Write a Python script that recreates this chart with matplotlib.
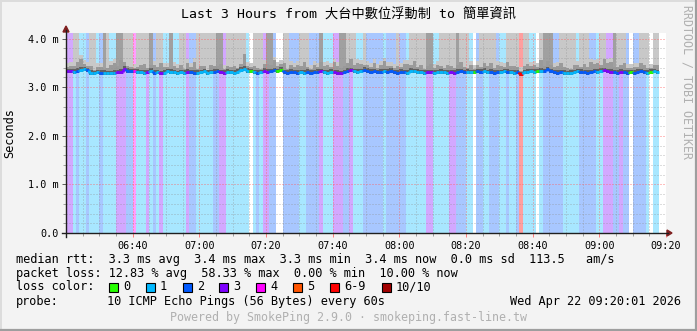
import matplotlib
matplotlib.use('Agg')
import matplotlib.pyplot as plt
from matplotlib.ticker import MultipleLocator, FixedLocator
from matplotlib.patches import Rectangle, Polygon
from matplotlib.lines import Line2D
import numpy as np

W, H, DPI = 697, 331, 100

title = 'Last 3 Hours from 大台中數位浮動制 to 簡單資訊'
x_tick_minutes = [20, 40, 60, 80, 100, 120, 140, 160, 180]
x_tick_labels = ['06:40', '07:00', '07:20', '07:40', '08:00', '08:20', '08:40', '09:00', '09:20']
y_ticks = [0.0, 1.0, 2.0, 3.0, 4.0]
y_tick_labels = ['0.0', '1.0 m', '2.0 m', '3.0 m', '4.0 m']
y_top = 4.115

# lost pings (of 10) per minute, starting 06:20
loss = [3, 3, 1, 2, 1, 1, 2, 1, 1, 1,
        2, 1, 1, 1, 1, 3, 3, 3, 2, 2,
        4, 1, 1, 1, 3, 1, 2, 1, 3, 1,
        1, 1, 1, 1, 1, 1, 3, 2, 2, 1,
        1, 1, 1, 1, 2, 2, 3, 3, 1, 1,
        1, 1, 1, 1, 1, 0, 1, 2, 1, 3,
        3, 2, 2, 0, 0, 2, 2, 2, 2, 2,
        1, 1, 2, 2, 2, 2, 3, 1, 1, 1,
        3, 3, 3, 2, 2, 3, 1, 1, 1, 2,
        2, 2, 2, 2, 2, 1, 2, 2, 2, 2,
        2, 2, 1, 1, 1, 1, 1, 1, 3, 3,
        1, 1, 1, 1, 1, 3, 3, 2, 2, 2,
        1, 1, 0, 2, 2, 1, 1, 2, 2, 2,
        1, 1, 2, 1, 1, 2, 6, 1, 1, 1,
        1, 0, 1, 2, 2, 2, 2, 2, 2, 1,
        1, 1, 1, 1, 2, 2, 2, 2, 2, 1,
        1, 3, 3, 3, 2, 2, 3, 2, 2, 0,
        2, 2, 2, 2, 1, 0, 1, 1]

# median rtt in ms
median_ms = [3.33, 3.33, 3.32, 3.34, 3.36, 3.37, 3.35, 3.30, 3.29, 3.31,
             3.30, 3.30, 3.29, 3.29, 3.30, 3.31, 3.32, 3.38, 3.34, 3.33,
             3.33, 3.32, 3.31, 3.30, 3.31, 3.34, 3.30, 3.31, 3.29, 3.30,
             3.33, 3.32, 3.31, 3.29, 3.31, 3.30, 3.32, 3.31, 3.30, 3.30,
             3.31, 3.33, 3.30, 3.31, 3.32, 3.33, 3.31, 3.30, 3.32, 3.31,
             3.30, 3.32, 3.36, 3.38, 3.34, 3.33, 3.31, 3.30, 3.31, 3.34,
             3.32, 3.33, 3.35, 3.33, 3.36, 3.31, 3.30, 3.32, 3.31, 3.30,
             3.31, 3.30, 3.32, 3.30, 3.31, 3.32, 3.33, 3.31, 3.30, 3.32,
             3.31, 3.30, 3.29, 3.31, 3.34, 3.35, 3.33, 3.32, 3.33, 3.36,
             3.34, 3.32, 3.33, 3.31, 3.32, 3.33, 3.32, 3.34, 3.31, 3.30,
             3.32, 3.31, 3.30, 3.34, 3.33, 3.32, 3.31, 3.30, 3.31, 3.31,
             3.30, 3.31, 3.32, 3.31, 3.30, 3.31, 3.30, 3.32, 3.33, 3.31,
             3.32, 3.31, 3.31, 3.33, 3.32, 3.34, 3.31, 3.32, 3.30, 3.31,
             3.31, 3.33, 3.32, 3.31, 3.30, 3.31, 3.27, 3.31, 3.32, 3.33,
             3.32, 3.33, 3.34, 3.33, 3.37, 3.33, 3.31, 3.30, 3.31, 3.30,
             3.29, 3.30, 3.31, 3.33, 3.32, 3.31, 3.30, 3.31, 3.33, 3.32,
             3.34, 3.35, 3.33, 3.32, 3.31, 3.30, 3.32, 3.31, 3.30, 3.31,
             3.30, 3.32, 3.33, 3.31, 3.30, 3.32, 3.33, 3.31]

# smoke above the median: L = light smoke off the top, D = dark smoke off the top, N = low smoke only
smoke_kind = list('NNLLNNNLLN' 'NDLNNDDLLL' 'NLLLLDNLLN' 'NDNNLLNNNL' 'LLLLLDDNLL'
                  'LLLLNNLLLN' 'DDNNNLLNNN' 'LLLNNNDNNN' 'NNDDLLLNNL' 'NNNNNNNNNL'
                  'NNNLLLLLDD' 'NNLLLLLDLL' 'LNNNLLLLLN' 'NNLLLLNLLN' 'NNLDDDNNLL'
                  'LLLNLLLNNN' 'LLNNDLLLNN' 'NNLLLNLL')

# spread of the dense smoke above the median, ms
smoke_spread = [0.08, 0.10, 0.12, 0.18, 0.22, 0.10, 0.08, 0.14, 0.06, 0.10,
                0.12, 0.08, 0.10, 0.16, 0.20, 0.12, 0.24, 0.14, 0.10, 0.08,
                0.06, 0.10, 0.14, 0.18, 0.08, 0.12, 0.16, 0.10, 0.20, 0.12,
                0.08, 0.06, 0.12, 0.10, 0.14, 0.08, 0.18, 0.10, 0.22, 0.08,
                0.12, 0.10, 0.06, 0.14, 0.12, 0.10, 0.16, 0.08, 0.12, 0.10,
                0.14, 0.08, 0.12, 0.30, 0.10, 0.08, 0.12, 0.10, 0.06, 0.14,
                0.16, 0.12, 0.20, 0.10, 0.12, 0.18, 0.08, 0.14, 0.10, 0.16,
                0.12, 0.22, 0.10, 0.08, 0.14, 0.10, 0.18, 0.12, 0.16, 0.10,
                0.20, 0.14, 0.10, 0.12, 0.16, 0.24, 0.12, 0.18, 0.14, 0.10,
                0.12, 0.10, 0.16, 0.08, 0.14, 0.20, 0.12, 0.10, 0.08, 0.14,
                0.10, 0.16, 0.18, 0.12, 0.20, 0.10, 0.14, 0.08, 0.12, 0.16,
                0.10, 0.14, 0.12, 0.08, 0.16, 0.12, 0.10, 0.14, 0.18, 0.10,
                0.08, 0.14, 0.06, 0.12, 0.10, 0.16, 0.12, 0.18, 0.10, 0.14,
                0.12, 0.08, 0.20, 0.12, 0.14, 0.10, 0.06, 0.12, 0.16, 0.10,
                0.14, 0.08, 0.22, 0.10, 0.16, 0.12, 0.10, 0.14, 0.18, 0.12,
                0.10, 0.08, 0.14, 0.12, 0.10, 0.16, 0.12, 0.20, 0.14, 0.18,
                0.12, 0.24, 0.16, 0.20, 0.10, 0.12, 0.14, 0.18, 0.10, 0.08,
                0.12, 0.10, 0.16, 0.14, 0.10, 0.08, 0.12, 0.14]

legend_labels = ['0', '1', '2', '3', '4', '5', '6-9', '10/10']
legend_colors = ['#26ff00', '#00b8ff', '#0059ff', '#7e00ff', '#ff00ff', '#ff5500', '#ff0000', '#a10000']

line1 = 'median rtt:  3.3 ms avg  3.4 ms max  3.3 ms min  3.4 ms now  0.0 ms sd  113.5   am/s'
line2 = 'packet loss: 12.83 % avg  58.33 % max  0.00 % min  10.00 % now'
probe_text = '10 ICMP Echo Pings (56 Bytes) every 60s'
date_text = 'Wed Apr 22 09:20:01 2026'
footer = 'Powered by SmokePing 2.9.0 · smokeping.fast-line.tw'
side_text = 'RRDTOOL / TOBI OETIKER'


def loss_color(n):
    if n >= 10:
        return legend_colors[7]
    if n >= 6:
        return legend_colors[6]
    return legend_colors[n]


def light(c, a=0.34):
    r, g, b = matplotlib.colors.to_rgb(c)
    return (1 - a + a * r, 1 - a + a * g, 1 - a + a * b)


mono = ['DejaVu Sans Mono', 'Noto Sans CJK TC']
plt.rcParams['font.family'] = mono

fig = plt.figure(figsize=(W / DPI, H / DPI), dpi=DPI, facecolor='#f3f3f3')


def fx(x):
    return x / W


def fy(y):
    return 1 - y / H


ax = fig.add_axes([fx(66), fy(233), 600 / W, 200 / H])
ax.set_facecolor('white')
ax.set_xlim(0, 180)
ax.set_ylim(0, y_top)
for s in ax.spines.values():
    s.set_visible(False)

n = len(loss)
x = np.arange(n)
med = np.array(median_ms)
spread = np.array(smoke_spread)
kind = np.array(smoke_kind)

bg = ['white' if v == 0 else light(loss_color(v), 0.38 if v >= 4 else 0.34) for v in loss]
ax.bar(x, y_top, width=1, align='edge', color=bg, linewidth=0, zorder=1)

# light smoke
lt_top = np.where(kind == 'N', med + spread + 0.08, y_top)
lt_color = np.where(kind == 'D', '#a0a0a0', '#c8c8c8')
ax.bar(x, lt_top - med, bottom=med, width=1, align='edge', color=list(lt_color), linewidth=0, zorder=1.2)
# dense smoke near median
ax.bar(x, spread, bottom=med, width=1, align='edge', color='#9a9a9a', linewidth=0, zorder=1.3)
ax.bar(x, 0.09, bottom=med - 0.04, width=1, align='edge', color='#606060', linewidth=0, zorder=1.4)

# median line, coloured by loss
cols = [loss_color(v) for v in loss]
ax.hlines(med, x, x + 1, colors=cols, linewidth=2.0, zorder=3)
ax.vlines(x[1:], med[:-1], med[1:], colors=cols[1:], linewidth=2.0, zorder=3)

# grid
ax.xaxis.set_major_locator(MultipleLocator(20))
ax.xaxis.set_minor_locator(MultipleLocator(5))
ax.yaxis.set_major_locator(FixedLocator(y_ticks))
ax.yaxis.set_minor_locator(MultipleLocator(0.2))
ax.set_axisbelow(False)
ax.grid(True, which='minor', color='#909090', alpha=0.6, linestyle=(0, (1, 2)), linewidth=0.72, zorder=4)
ax.grid(True, which='major', color='#ff6060', alpha=0.8, linestyle=(0, (1, 2)), linewidth=0.72, zorder=4)

ax.set_xticks(x_tick_minutes)
ax.set_xticklabels(x_tick_labels)
ax.set_yticks(y_ticks)
ax.set_yticklabels(y_tick_labels)
ax.tick_params(which='major', length=3, width=0.72, color='#ff8080', labelsize=7.3, pad=2.5)
ax.tick_params(which='minor', length=2, width=0.72, color='#a0a0a0')
ax.tick_params(axis='y', which='major', color='#606060')

# axes with arrows
axis_col = '#1f1f1f'
arrow_col = '#7f1f1f'
fig.add_artist(Line2D([fx(62), fx(668)], [fy(233), fy(233)], color=axis_col, linewidth=1.0))
fig.add_artist(Line2D([fx(66), fx(66)], [fy(237), fy(30)], color=axis_col, linewidth=1.0))
fig.add_artist(Polygon([(fx(667), fy(230)), (fx(672), fy(233)), (fx(667), fy(236))],
                       closed=True, color=arrow_col, transform=fig.transFigure))
fig.add_artist(Polygon([(fx(63), fy(32)), (fx(66), fy(26)), (fx(69), fy(32))],
                       closed=True, color=arrow_col, transform=fig.transFigure))

# texts
fig.text(0.5, fy(14.5), title, ha='center', va='center', fontsize=9.5, family=mono)
fig.text(fx(10), fy(133), 'Seconds', rotation=90, ha='center', va='center', fontsize=8.6)
fig.text(fx(687), fy(5), side_text, rotation=270, ha='center', va='top', fontsize=8.4, color='#b0b0b0')

fs = 8.56
fig.text(fx(16), fy(259), line1, ha='left', va='center', fontsize=fs)
fig.text(fx(16), fy(273), line2, ha='left', va='center', fontsize=fs)
fig.text(fx(16), fy(287), 'loss color:', ha='left', va='center', fontsize=fs)
box_x = [109, 146, 183, 219, 256, 293, 330, 382]
for bx, lab, c in zip(box_x, legend_labels, legend_colors):
    fig.add_artist(Rectangle((fx(bx), fy(291.5)), 8.5 / W, 8.5 / H, facecolor=c, edgecolor='black',
                             linewidth=0.8, transform=fig.transFigure))
    fig.text(fx(bx + 14), fy(287), lab, ha='left', va='center', fontsize=fs)
fig.text(fx(16), fy(301), 'probe:', ha='left', va='center', fontsize=fs)
fig.text(fx(107), fy(301), probe_text, ha='left', va='center', fontsize=fs)
fig.text(fx(681), fy(301), date_text, ha='right', va='center', fontsize=fs)
fig.text(0.5, fy(318), footer, ha='center', va='center', fontsize=8.35, color='#b0b0b0')

# 3d frame
fig.add_artist(Line2D([0, 1], [fy(0.5), fy(0.5)], color='#dcdcdc', linewidth=1.4))
fig.add_artist(Line2D([fx(0.5), fx(0.5)], [0, 1], color='#dcdcdc', linewidth=1.4))
fig.add_artist(Line2D([0, 1], [fy(330), fy(330)], color='#9e9e9e', linewidth=1.6))
fig.add_artist(Line2D([fx(696), fx(696)], [0, 1], color='#9e9e9e', linewidth=1.6))

fig.savefig('out.png', dpi=DPI, facecolor=fig.get_facecolor())
